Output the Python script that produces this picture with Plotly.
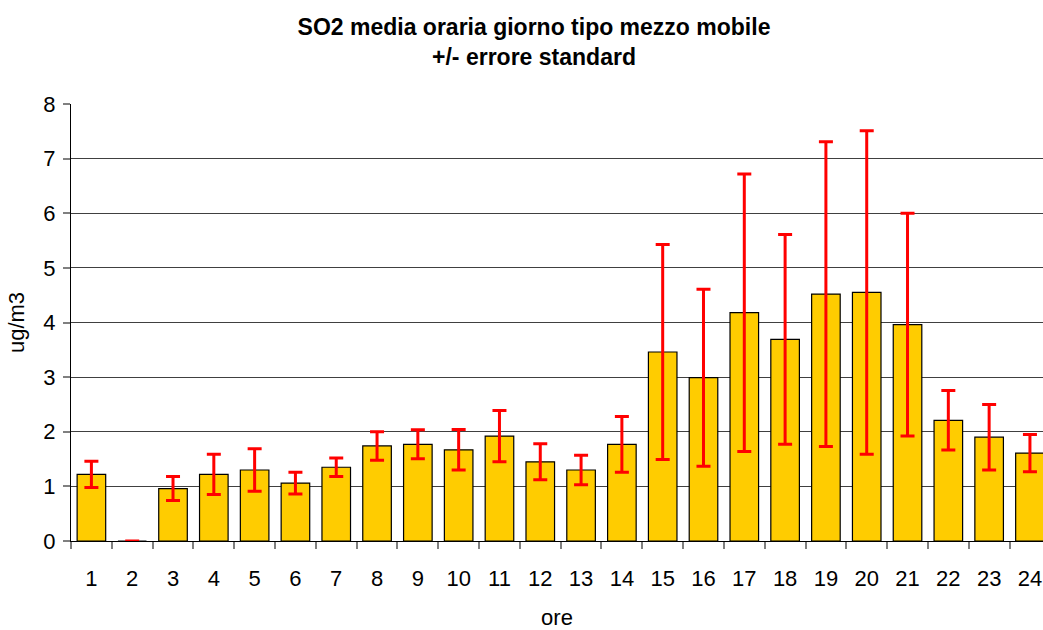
import plotly.graph_objects as go

hours = [str(h) for h in range(1, 25)]
means = [1.22, 0.0, 0.96, 1.22, 1.30, 1.06, 1.35, 1.74, 1.77, 1.67, 1.92, 1.45,
         1.30, 1.77, 3.46, 2.99, 4.18, 3.69, 4.52, 4.55, 3.96, 2.21, 1.90, 1.61]
std_err = [0.24, 0.0, 0.22, 0.37, 0.39, 0.20, 0.17, 0.26, 0.265, 0.37, 0.47, 0.33,
           0.27, 0.51, 1.97, 1.62, 2.54, 1.92, 2.79, 2.96, 2.04, 0.545, 0.60, 0.34]

title_text = "SO2 media oraria giorno tipo mezzo mobile<br>+/- errore standard"
y_title = "ug/m3"
x_title = "ore"

fig = go.Figure()
fig.add_trace(go.Bar(
    x=hours, y=means,
    marker=dict(color="#FFCC00", line=dict(color="#000000", width=1.2)),
    error_y=dict(type="data", array=std_err, visible=True,
                 color="#FF0000", thickness=3, width=7),
))

font_family = "Liberation Sans, Arial, sans-serif"
fig.update_layout(
    width=1043, height=630,
    paper_bgcolor="white", plot_bgcolor="white",
    margin=dict(l=71, r=0, t=104, b=89, autoexpand=False),
    bargap=0.3,
    showlegend=False,
    font=dict(family=font_family, size=22, color="black"),
    title=dict(text="<b>" + title_text + "</b>", xref="container", x=534/1043,
               xanchor="center", yref="container", y=1 - 35/630, yanchor="middle",
               automargin=False,
               font=dict(size=23, family=font_family, color="black")),
)
fig.update_xaxes(
    type="category", range=[-0.5, 23.32], automargin=False,
    showline=True, linecolor="black", linewidth=1,
    ticks="outside", tickson="boundaries", ticklen=7, tickcolor="#808080", tickwidth=1.5,
    ticklabelstandoff=18,
    showgrid=False,
    title=dict(text=x_title, standoff=24, font=dict(size=22)),
    tickfont=dict(size=22),
)
fig.update_yaxes(
    range=[0, 8], dtick=1, automargin=False,
    showline=True, linecolor="black", linewidth=1,
    ticks="outside", ticklen=7, tickcolor="#808080", tickwidth=1.5,
    ticklabelstandoff=3,
    showgrid=True, gridcolor="#404040", gridwidth=1,
    zeroline=False,
    title=dict(text=y_title, standoff=12, font=dict(size=22)),
    tickfont=dict(size=22),
)

fig.write_html("out.html",
               config={"displayModeBar": False},
               post_script="document.body.style.margin='0';document.body.style.overflow='hidden';")
